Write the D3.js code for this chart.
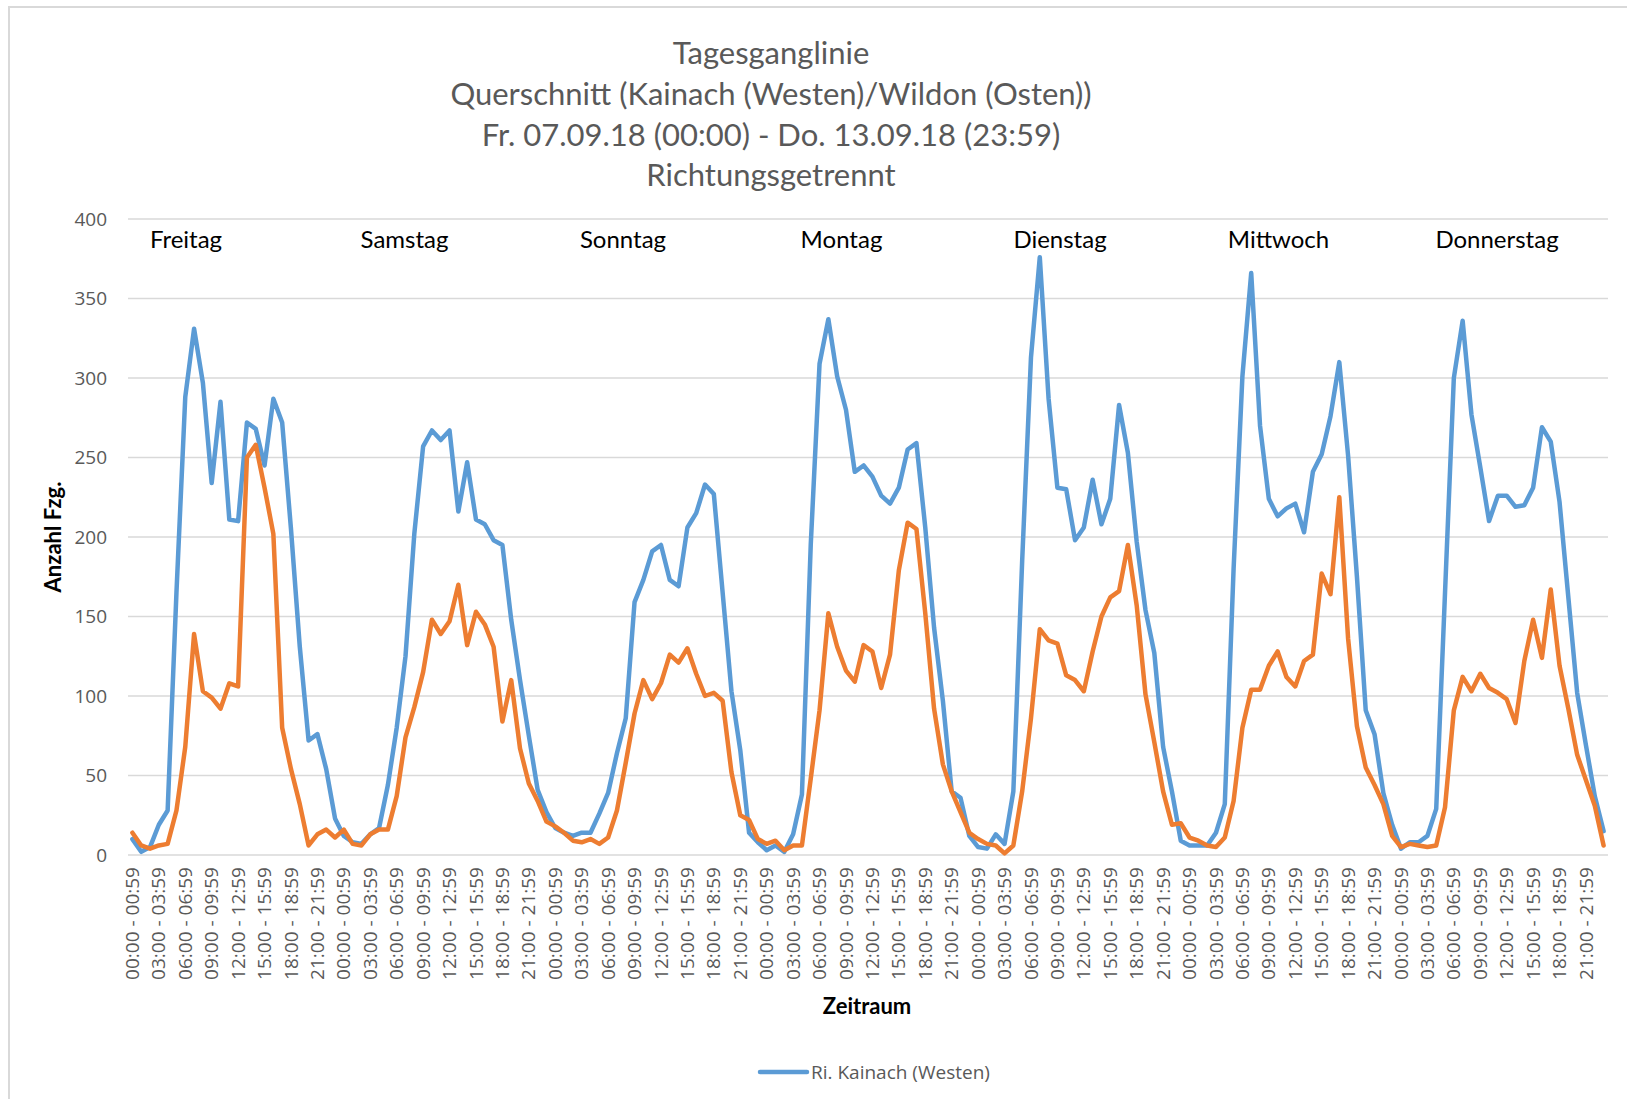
<!DOCTYPE html>
<html>
<head>
<meta charset="UTF-8">
<style>
  body { margin: 0; background: #fff; }
  svg { display: block; }
  .tick-label { font-family: "Open Sans", sans-serif; font-size: 19px; fill: #595959; }
  .title-line { font-family: Lato, sans-serif; font-size: 31px; fill: #595959; }
  .day-label { font-family: Lato, sans-serif; font-size: 24px; fill: #000; }
  .axis-title { font-family: Lato, sans-serif; font-size: 22px; font-weight: bold; fill: #000; }
</style>
</head>
<body>
<svg></svg>
<script src="https://d3js.org/d3.v7.min.js"></script>
<script>
let titleLines = [
    "Tagesganglinie",
    "Querschnitt (Kainach (Westen)/Wildon (Osten))",
    "Fr. 07.09.18 (00:00) - Do. 13.09.18 (23:59)",
    "Richtungsgetrennt"
];

let days = ["Freitag", "Samstag", "Sonntag", "Montag", "Dienstag", "Mittwoch", "Donnerstag"];

let hourLabels = [
    "00:00 - 00:59", "01:00 - 01:59", "02:00 - 02:59", "03:00 - 03:59",
    "04:00 - 04:59", "05:00 - 05:59", "06:00 - 06:59", "07:00 - 07:59",
    "08:00 - 08:59", "09:00 - 09:59", "10:00 - 10:59", "11:00 - 11:59",
    "12:00 - 12:59", "13:00 - 13:59", "14:00 - 14:59", "15:00 - 15:59",
    "16:00 - 16:59", "17:00 - 17:59", "18:00 - 18:59", "19:00 - 19:59",
    "20:00 - 20:59", "21:00 - 21:59", "22:00 - 22:59", "23:00 - 23:59"
];

// Ri. Kainach (Westen) - stuendlich, Fr bis Do
let kainach = [
    10, 2, 5, 19, 28, 165, 288, 331, 297, 234, 285, 211, 210, 272, 268, 245, 287, 272, 205, 131, 72, 76, 54, 23,
    12, 8, 7, 13, 17, 44, 80, 125, 202, 257, 267, 261, 267, 216, 247, 211, 208, 198, 195, 148, 110, 75, 41, 27,
    17, 14, 12, 14, 14, 26, 39, 64, 86, 159, 173, 191, 195, 173, 169, 206, 215, 233, 227, 165, 103, 66, 14, 8,
    3, 6, 2, 13, 38, 195, 309, 337, 301, 280, 241, 245, 238, 226, 221, 231, 255, 259, 206, 143, 97, 40, 36, 12,
    5, 4, 13, 7, 40, 185, 313, 376, 287, 231, 230, 198, 206, 236, 208, 224, 283, 253, 197, 154, 127, 68, 40, 9,
    6, 6, 6, 14, 32, 180, 301, 366, 270, 224, 213, 218, 221, 203, 241, 252, 276, 310, 251, 175, 91, 76, 39, 19,
    4, 8, 8, 12, 29, 165, 300, 336, 277, 244, 210, 226, 226, 219, 220, 231, 269, 260, 222, 162, 102, 69, 37, 15
];

// Ri. Wildon (Osten)
let wildon = [
    14, 6, 4, 6, 7, 28, 68, 139, 103, 99, 92, 108, 106, 250, 258, 231, 202, 80, 54, 32, 6, 13, 16, 11,
    16, 7, 6, 13, 16, 16, 37, 74, 93, 115, 148, 139, 147, 170, 132, 153, 145, 131, 84, 110, 67, 45, 34, 21,
    18, 14, 9, 8, 10, 7, 11, 28, 58, 89, 110, 98, 108, 126, 121, 130, 114, 100, 102, 97, 52, 25, 22, 10,
    7, 9, 3, 6, 6, 48, 91, 152, 131, 116, 109, 132, 128, 105, 126, 179, 209, 205, 152, 92, 57, 40, 27, 14,
    10, 7, 6, 1, 6, 40, 86, 142, 135, 133, 113, 110, 103, 128, 150, 162, 166, 195, 157, 101, 71, 40, 19, 20,
    11, 9, 6, 5, 11, 34, 80, 104, 104, 119, 128, 112, 106, 122, 126, 177, 164, 225, 136, 81, 55, 44, 32, 12,
    5, 7, 6, 5, 6, 30, 91, 112, 103, 114, 105, 102, 98, 83, 122, 148, 124, 167, 119, 92, 63, 47, 31, 6
];

let yTicks = [0, 50, 100, 150, 200, 250, 300, 350, 400];
let legendName = "Ri. Kainach (Westen)";

let width = 1627, height = 1099;
let plotLeft = 128, plotRight = 1608, plotTop = 219, plotBottom = 855;

let svg = d3.select("svg")
    .attr("width", width)
    .attr("height", height)
    .attr("viewBox", "0 0 " + width + " " + height);

svg.append("rect")
    .attr("width", width).attr("height", height)
    .attr("fill", "#fff");

// chart border (only left and top are inside the picture)
svg.append("rect")
    .attr("x", 9).attr("y", 7)
    .attr("width", width + 100).attr("height", height + 100)
    .attr("fill", "none")
    .attr("stroke", "#d9d9d9")
    .attr("stroke-width", 2);

let x = d3.scaleBand()
    .domain(d3.range(kainach.length))
    .range([plotLeft, plotRight]);
let cx = i => x(i) + x.bandwidth() / 2;

let y = d3.scaleLinear()
    .domain([0, 400])
    .range([plotBottom, plotTop]);

// title
svg.append("g")
    .selectAll("text")
    .data(titleLines)
    .enter()
    .append("text")
    .attr("class", "title-line")
    .attr("x", 771)
    .attr("y", (d, i) => 64 + i * 40.8)
    .attr("text-anchor", "middle")
    .text(d => d);

// gridlines + y labels
let yAxis = svg.append("g");
yAxis.selectAll("line")
    .data(yTicks)
    .enter()
    .append("line")
    .attr("x1", plotLeft).attr("x2", plotRight)
    .attr("y1", d => y(d)).attr("y2", d => y(d))
    .attr("stroke", "#d9d9d9")
    .attr("stroke-width", 1.4);
yAxis.selectAll("text")
    .data(yTicks)
    .enter()
    .append("text")
    .attr("class", "tick-label")
    .attr("x", 107)
    .attr("y", d => y(d))
    .attr("dy", "0.35em")
    .attr("text-anchor", "end")
    .text(d => d);

// x labels, every third hour
let xTickIdx = d3.range(kainach.length).filter(i => i % 3 == 0);
svg.append("g")
    .selectAll("text")
    .data(xTickIdx)
    .enter()
    .append("text")
    .attr("class", "tick-label")
    .attr("transform", i => "translate(" + cx(i) + "," + (plotBottom + 12) + ") rotate(-90)")
    .attr("dy", "0.35em")
    .attr("text-anchor", "end")
    .text(i => hourLabels[i % 24]);

// day labels (text boxes above the curves)
let dayX = d3.scaleLinear().domain([0, days.length - 1]).range([186, 1497]);
svg.append("g")
    .selectAll("text")
    .data(days)
    .enter()
    .append("text")
    .attr("class", "day-label")
    .attr("x", (d, i) => dayX(i))
    .attr("y", 248)
    .attr("text-anchor", "middle")
    .text(d => d);

// lines
let line = d3.line()
    .x((d, i) => cx(i))
    .y(d => y(d));

svg.append("path")
    .datum(kainach)
    .attr("d", line)
    .attr("fill", "none")
    .attr("stroke", "#5B9BD5")
    .attr("stroke-width", 4.5)
    .attr("stroke-linejoin", "round")
    .attr("stroke-linecap", "round");

svg.append("path")
    .datum(wildon)
    .attr("d", line)
    .attr("fill", "none")
    .attr("stroke", "#ED7D31")
    .attr("stroke-width", 4.5)
    .attr("stroke-linejoin", "round")
    .attr("stroke-linecap", "round");

// axis titles
svg.append("text")
    .attr("class", "axis-title")
    .attr("transform", "translate(61,537) rotate(-90)")
    .attr("text-anchor", "middle")
    .text("Anzahl Fzg.");

svg.append("text")
    .attr("class", "axis-title")
    .attr("x", 867)
    .attr("y", 1014)
    .attr("text-anchor", "middle")
    .text("Zeitraum");

// legend
let legend = svg.append("g").attr("transform", "translate(760,1072)");
legend.append("line")
    .attr("x1", 0).attr("x2", 47)
    .attr("stroke", "#5B9BD5")
    .attr("stroke-width", 4.5)
    .attr("stroke-linecap", "round");
legend.append("text")
    .attr("class", "tick-label")
    .attr("x", 51)
    .attr("dy", "0.35em")
    .text(legendName);
</script>
</body>
</html>
